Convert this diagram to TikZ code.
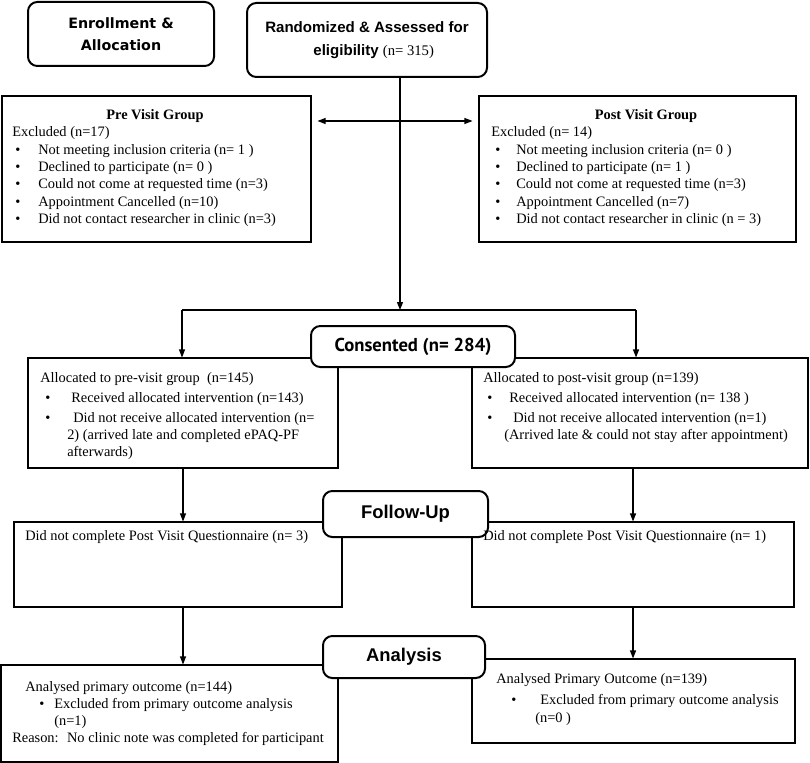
\documentclass[tikz,border=0pt]{standalone}
\usepackage{fontspec}
\setmainfont{Liberation Serif}
\newfontfamily\arialfont{Liberation Sans}
\newfontfamily\tahomafont{DejaVu Sans}
\newfontfamily\myriadfont{PT Sans}
\usetikzlibrary{arrows.meta}
\newcommand{\bul}[2]{\hspace*{#1}\makebox[#2][l]{\textbullet}}

\begin{document}
\begin{tikzpicture}[x=0.75pt,y=0.75pt,yscale=-1,xscale=1,
  sbox/.style={draw, line width=0.8pt, inner sep=0pt},
  rbox/.style={draw, line width=1.5pt, rounded corners=7pt, fill=white, align=center, inner sep=0pt},
  txt/.style={anchor=north west, inner sep=0pt, align=left, font=\fontsize{10.8}{13}\selectfont},
  arr/.style={line width=0.8pt, -{Triangle[length=6pt,width=4.5pt]}},
  arrtwo/.style={line width=0.8pt, {Triangle[length=6pt,width=4.5pt]}-{Triangle[length=6pt,width=4.5pt]}}
]
\useasboundingbox (0,0) rectangle (810,763);

%Shape: Rectangle
\node [sbox, minimum width=231.75pt, minimum height=109.5pt] (pre) at (156.5,169) {};
%Shape: Rectangle
\node [sbox, minimum width=237.75pt, minimum height=109.5pt] (post) at (637.5,169) {};
%Shape: Rectangle
\node [sbox, minimum width=232.5pt, minimum height=82.5pt] (allocL) at (183,413) {};
%Shape: Rectangle
\node [sbox, minimum width=252pt, minimum height=82.5pt] (allocR) at (640,413) {};
%Shape: Rectangle
\node [sbox, minimum width=246pt, minimum height=63.75pt] (fuL) at (178,564.5) {};
%Shape: Rectangle
\node [sbox, minimum width=241.5pt, minimum height=63.75pt] (fuR) at (633,564.5) {};
%Shape: Rectangle
\node [sbox, minimum width=252.75pt, minimum height=72.75pt] (anL) at (169.5,713.5) {};
%Shape: Rectangle
\node [sbox, minimum width=242.25pt, minimum height=63pt] (anR) at (633.5,701) {};

%Rounded Rect
\node [rbox, minimum width=139.5pt, minimum height=48pt, font=\tahomafont\bfseries\fontsize{10.7}{16.5}\selectfont] (enrol) at (121,34) {Enrollment \&\\Allocation};
%Rounded Rect
\node [rbox, minimum width=180pt, minimum height=55.5pt, font=\arialfont\bfseries\fontsize{11.3}{17}\selectfont] (rand) at (367,40) {Randomized \& Assessed for\\\hspace*{10pt}eligibility {\rmfamily\mdseries\fontsize{11}{17}\selectfont (n= 315)}};
%Rounded Rect
\node [rbox, minimum width=153pt, minimum height=30.75pt, font=\myriadfont\bfseries\fontsize{14}{16}\selectfont] (cons) at (413,346.5) {Consented (n= 284)};
%Rounded Rect
\node [rbox, minimum width=123.75pt, minimum height=34.5pt, font=\arialfont\bfseries\fontsize{13.8}{16}\selectfont] (follow) at (405.5,514) {Follow-Up};
%Rounded Rect
\node [rbox, minimum width=121.5pt, minimum height=31.5pt, font=\arialfont\bfseries\fontsize{13.8}{16}\selectfont] (anal) at (404,657) {Analysis};

% Text Node
\node [inner sep=0pt, font=\bfseries\fontsize{10.8}{13}\selectfont] (preTitle) at (155,116) {Pre Visit Group};
% Text Node
\node [txt] (preTxt) at (12,126.5) {Excluded (n=17)\\
\bul{2.25pt}{17.25pt}Not meeting inclusion criteria (n= 1 )\\
\bul{2.25pt}{17.25pt}Declined to participate (n= 0 )\\
\bul{2.25pt}{17.25pt}Could not come at requested time (n=3)\\
\bul{2.25pt}{17.25pt}Appointment Cancelled (n=10)\\
\bul{2.25pt}{17.25pt}Did not contact researcher in clinic (n=3)};
% Text Node
\node [inner sep=0pt, font=\bfseries\fontsize{10.8}{13}\selectfont] (postTitle) at (646,116) {Post Visit Group};
% Text Node
\node [txt] (postTxt) at (491,126.5) {Excluded (n= 14)\\
\bul{3pt}{15.75pt}Not meeting inclusion criteria (n= 0 )\\
\bul{3pt}{15.75pt}Declined to participate (n= 1 )\\
\bul{3pt}{15.75pt}Could not come at requested time (n=3)\\
\bul{3pt}{15.75pt}Appointment Cancelled (n=7)\\
\bul{3pt}{15.75pt}Did not contact researcher in clinic (n = 3)};
% Text Node
\node [txt, font=\fontsize{10.8}{12.75}\selectfont] (allocLTxt) at (40,372.5) {Allocated to pre-visit group \ (n=145)\\[2.25pt]
\bul{3.75pt}{19.5pt}Received allocated intervention (n=143)\\[2.25pt]
\bul{3.75pt}{21pt}Did not receive allocated intervention (n=\\
\hspace*{20.25pt}2) (arrived late and completed ePAQ-PF\\
\hspace*{20.25pt}afterwards)};
% Text Node
\node [txt, font=\fontsize{10.8}{12.75}\selectfont] (allocRTxt) at (483,372.5) {Allocated to post-visit group (n=139)\\[2.25pt]
\bul{3pt}{16.5pt}Received allocated intervention (n= 138 )\\[2.25pt]
\bul{3pt}{19.5pt}Did not receive allocated intervention (n=1)\\
\hspace*{15.75pt}(Arrived late \& could not stay after appointment)};
% Text Node
\node [txt] (fuLTxt) at (25,530.5) {Did not complete Post Visit Questionnaire (n= 3)};
% Text Node
\node [txt] (fuRTxt) at (483,530.5) {Did not complete Post Visit Questionnaire (n= 1)};
% Text Node
\node [txt, font=\fontsize{10.8}{12.75}\selectfont] (anLTxt) at (12,681.5) {\hspace*{9.75pt}Analysed primary outcome (n=144)\\
\bul{20.25pt}{11.25pt}Excluded from primary outcome analysis\\
\hspace*{31.5pt}(n=1)\\
Reason: \ No clinic note was completed for participant};
% Text Node
\node [txt, font=\fontsize{10.8}{13.5}\selectfont] (anRTxt) at (496,673.5) {Analysed Primary Outcome (n=139)\\[2.25pt]
\bul{11.25pt}{21.75pt}Excluded from primary outcome analysis\\
\hspace*{29.25pt}(n=0 )};

\coordinate (exc) at (400,121);
\coordinate (split) at (400,310);
\coordinate (splitL) at (182,310);
\coordinate (splitR) at (636,310);

%Straight Lines
\draw [arr] (rand.south -| split) -- (split);
\draw [arrtwo, shorten <=4.5pt, shorten >=4.5pt] (pre.east |- exc) -- (post.west |- exc);
\draw [line width=0.8pt] (splitL) -- (splitR);
\draw [arr] (splitL) -- (splitL |- allocL.north);
\draw [arr] (splitR) -- (splitR |- allocR.north);
%Straight Lines
\draw [arr] (allocL.south) -- (allocL.south |- fuL.north);
\draw [arr] (allocR.south -| fuR.north) -- (fuR.north);
%Straight Lines
\draw [arr] (fuL.south -| allocL.south) -- (anL.north -| allocL.south);
\draw [arr] (fuR.south) -- (fuR.south |- anR.north);

\end{tikzpicture}
\end{document}
